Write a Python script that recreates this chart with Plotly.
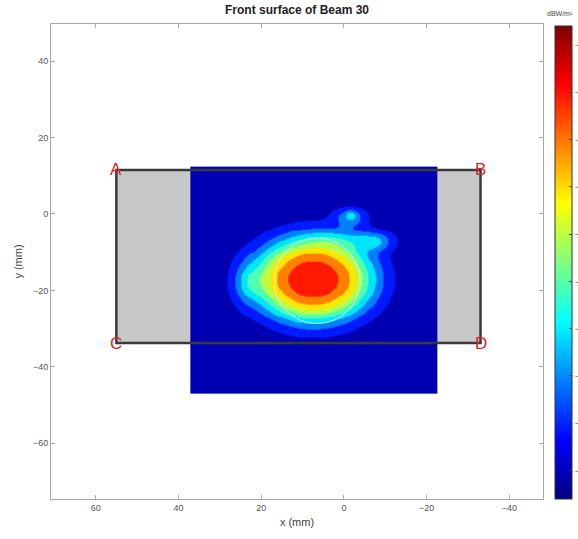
import numpy as np
import plotly.graph_objects as go

# ---- beam footprint model: super-Gaussian lobes (mm, normalised level) ----
blob_x = [7.5, 0.0, -7.5, -1.5, -1.5, 23.5]
blob_y = [-17.0, -6.5, -7.0, -0.3, -0.8, -18.0]
blob_amp = [0.82, 0.10, 0.21, 0.12, 0.22, 0.15]
blob_sx = [14.4, 8.0, 4.5, 1.2, 4.0, 3.5]
blob_sy = [11.1, 2.5, 2.5, 1.0, 2.6, 5.5]
blob_pow = [3.0, 2.0, 2.0, 2.0, 2.0, 2.0]
floor_level = 0.04
n_bands = 10

# colour scale limits (dBW/m^2) and ticks
z_min, z_max = -63.0, -13.0
cbar_ticks = [-60, -55, -50, -45, -40, -35, -30, -25, -20, -15]

# sampled window on the beam face (mm)
grid_x = np.arange(-22.5, 37.01, 0.25)
grid_y = np.arange(-47.0, 12.31, 0.25)

# board outline ABCD (mm)
plate_x = [55.0, -33.0]
plate_y = [11.5, -33.8]
corner_names = ["A", "B", "C", "D"]
corner_x = [55.0, -33.0, 55.0, -33.0]
corner_y = [11.5, 11.5, -33.8, -33.8]

# reference circle (mm)
ring_cx, ring_cy = 6.5, -17.5
ring_rx, ring_ry = 10.4, 11.2

# axes
x_range = [70.8, -48.1]
y_range = [-74.6, 49.7]
x_ticks = [60, 40, 20, 0, -20, -40]
y_ticks = [40, 20, 0, -20, -40, -60]

gx, gy = np.meshgrid(grid_x, grid_y)
level = np.full_like(gx, floor_level)
for bx, by, a, sx, sy, p in zip(blob_x, blob_y, blob_amp, blob_sx, blob_sy, blob_pow):
    r = np.sqrt(((gx - bx) / sx) ** 2 + ((gy - by) / sy) ** 2)
    level += a * np.exp(-(r ** p))
# filled-contour style: each band takes the colour of its mid level
level = (np.floor(np.clip(level, 0, 0.999) * n_bands) + 0.5) / n_bands
z = z_min + level * (z_max - z_min)

jet = [
    [0.0, "rgb(0,0,128)"],
    [0.125, "rgb(0,0,255)"],
    [0.375, "rgb(0,255,255)"],
    [0.625, "rgb(255,255,0)"],
    [0.875, "rgb(255,0,0)"],
    [1.0, "rgb(128,0,0)"],
]

W, H = 578, 539
ml, mr, mt, mb = 51, 35, 24, 40
pw = W - ml - mr
ph = H - mt - mb
FONT = "Liberation Sans, Arial"

fig = go.Figure()

fig.add_trace(go.Heatmap(
    x=grid_x, y=grid_y, z=z,
    zmin=z_min, zmax=z_max,
    colorscale=jet, zsmooth="best",
    hoverinfo="skip",
    colorbar=dict(
        x=(555 - ml) / pw, xanchor="left", xpad=0,
        y=0.498, yanchor="middle", ypad=0,
        thickness=17, lenmode="pixels", len=473,
        outlinewidth=1, outlinecolor="#333333",
        ticks="inside", ticklen=3, tickcolor="#333333",
        tickvals=cbar_ticks,
        tickfont=dict(size=9, color="#555555", family=FONT),
    ),
))

# grey board, beam window on top, then the outline
fig.add_shape(type="rect", xref="x", yref="y", layer="below",
              x0=plate_x[0], x1=plate_x[1], y0=plate_y[0], y1=plate_y[1],
              fillcolor="#c8c8c8", line=dict(width=0))
fig.add_shape(type="rect", xref="x", yref="y", layer="above",
              x0=plate_x[0], x1=plate_x[1], y0=plate_y[0], y1=plate_y[1],
              fillcolor="rgba(0,0,0,0)", line=dict(color="#3a3a3a", width=2.5))
fig.add_shape(type="circle", xref="x", yref="y", layer="above",
              x0=ring_cx - ring_rx, x1=ring_cx + ring_rx,
              y0=ring_cy - ring_ry, y1=ring_cy + ring_ry,
              line=dict(color="rgba(235,235,235,0.8)", width=1))

for name, cx, cy in zip(corner_names, corner_x, corner_y):
    fig.add_annotation(x=cx, y=cy, xref="x", yref="y", text=name,
                       showarrow=False, xanchor="center", yanchor="middle",
                       font=dict(size=17, color="#e02424", family=FONT))

fig.add_annotation(x=(560 - ml) / pw, y=(H - mb - 14) / ph, xref="paper", yref="paper",
                   text="dBW/m²", showarrow=False, xanchor="center", yanchor="middle",
                   font=dict(size=7, color="#444444", family=FONT))

axis_common = dict(
    showgrid=False, zeroline=False, showline=True, mirror="ticks",
    linecolor="#a8a8a8", linewidth=1,
    ticks="inside", ticklen=4, tickcolor="#a8a8a8",
    tickfont=dict(size=9, color="#555555", family=FONT),
)

fig.update_layout(
    width=W, height=H,
    margin=dict(l=ml, r=mr, t=mt, b=mb, autoexpand=False),
    paper_bgcolor="white", plot_bgcolor="white",
    showlegend=False,
    title=dict(text="<b>Front surface of Beam 30</b>", x=297 / W, xanchor="center",
               y=1 - 10 / H, yanchor="middle",
               font=dict(size=12, color="#222222", family=FONT)),
    xaxis=dict(range=x_range, tickvals=x_ticks,
               title=dict(text="x (mm)", standoff=6,
                          font=dict(size=11, color="#444444", family=FONT)),
               **axis_common),
    yaxis=dict(range=y_range, tickvals=y_ticks,
               title=dict(text="y (mm)", standoff=8,
                          font=dict(size=11, color="#444444", family=FONT)),
               **axis_common),
)

fig.write_html("out.html")
